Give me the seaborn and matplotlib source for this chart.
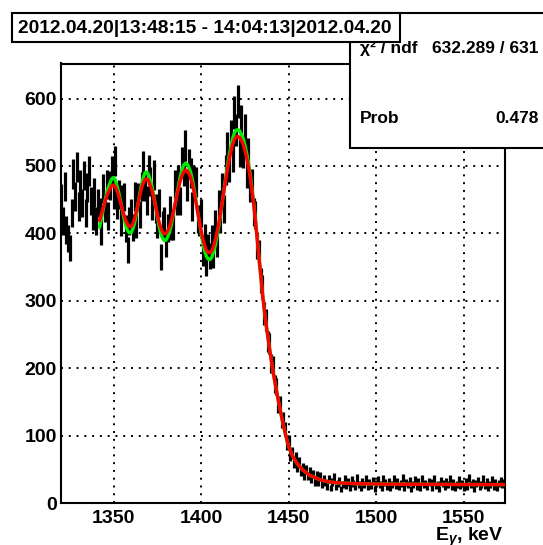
import numpy as np
import matplotlib
matplotlib.use("Agg")
import matplotlib.pyplot as plt
import seaborn as sns
from matplotlib.patches import Rectangle
from matplotlib.ticker import MultipleLocator

# Spectrum: counts in 1 keV bins, first bin centred on 1320 keV
bin_start = 1320
counts = [
    452, 418, 470, 405, 392, 378, 430, 488, 455, 499,
    440, 472, 445, 486, 430, 468, 492, 448, 425, 460,
    418, 445, 431, 403, 467, 438, 472, 426, 471, 493,
    457, 507, 443, 458, 416, 451, 454, 407, 375, 418,
    430, 409, 455, 414, 454, 428, 469, 500, 470, 449,
    494, 477, 441, 487, 437, 413, 445, 365, 413, 418,
    385, 408, 434, 410, 411, 473, 448, 479, 448, 506,
    492, 530, 469, 503, 490, 440, 478, 476, 421, 416,
    430, 371, 394, 355, 380, 366, 392, 368, 414, 385,
    444, 421, 468, 436, 494, 527, 499, 545, 514, 579,
    553, 596, 522, 566, 520, 553, 490, 519, 468, 474,
    431, 427, 382, 371, 330, 321, 281, 272, 239, 237,
    207, 204, 176, 173, 145, 147, 123, 124, 110, 88,
    92, 71, 75, 59, 67, 54, 61, 47, 52, 41,
    50, 40, 47, 35, 43, 31, 41, 31, 40, 28,
    36,
    30, 25, 35, 22, 31, 38, 24, 29, 33, 21,
    28, 36, 26, 31, 23, 34, 29, 25, 37, 27,
    22, 32, 28, 35, 24, 30, 26, 33, 21, 29,
    34, 27, 23, 36, 30, 25, 31, 22, 28, 35,
    26, 32, 24, 29, 37, 23, 30, 27, 33, 21,
    28, 34, 25, 31, 22, 36, 27, 29, 24, 32,
    30, 23, 35, 26, 28, 21, 33, 29, 25, 31,
    27, 36, 24, 30, 22, 28, 34, 26, 29, 23,
    32, 25, 37, 27, 30, 21, 29, 33, 24, 28,
    35, 26, 31, 23, 28, 34, 25, 30, 22, 29,
    33, 27, 30,
]

# Fit curves: 1 keV steps over the peak region, coarser along the flat tail
fit_energy = list(range(1342, 1471)) + [1472, 1474, 1477, 1480, 1485, 1490,
                                        1500, 1520, 1540, 1560, 1573]
fit_red = [
    419, 428, 437, 446, 454, 461, 466, 471, 472, 469,
    463, 455, 446, 436, 427, 419, 413, 410, 410, 414,
    422, 432, 444, 456, 467, 475, 480, 481, 478, 471,
    463, 452, 440, 428, 417, 408, 402, 399, 400, 404,
    410, 419, 430, 442, 454, 466, 477, 485, 491, 494,
    493, 489, 483, 473, 461, 447, 432, 418, 404, 392,
    382, 375, 372, 371, 374, 380, 389, 401, 414, 429,
    446, 463, 479, 495, 509, 521, 532, 539, 543, 544,
    542, 538, 532, 523, 512, 499, 483, 464, 443, 419,
    392, 365, 338, 312, 288, 267, 248, 230, 213, 196,
    181, 167, 153, 140, 127, 115, 104, 93, 84, 77,
    71, 66, 62, 58, 55, 52, 49, 47, 45, 43,
    41, 40, 39, 37.5, 36.5, 35.5, 34.5, 33.5, 33,
    32, 31, 30.2, 29.6, 29, 28.6, 28.1, 27.7, 27.5, 27.4, 27.3,
]
fit_green = [
    409, 421, 434, 447, 459, 468, 475, 481, 483, 479,
    470, 460, 448, 435, 422, 411, 404, 401, 401, 406,
    415, 428, 444, 459, 473, 483, 490, 491, 487, 479,
    469, 455, 440, 425, 411, 399, 393, 389, 390, 395,
    402, 413, 427, 441, 456, 470, 483, 494, 501, 504,
    503, 498, 491, 480, 466, 450, 432, 416, 399, 385,
    374, 366, 362, 361, 364, 371, 381, 394, 409, 426,
    445, 464, 482, 500, 515, 529, 541, 549, 553, 554,
    552, 547, 541, 531, 519, 505, 488, 467, 446, 421,
    393, 366, 338, 312, 288, 267, 248, 230, 213, 196,
    181, 167, 153, 140, 127, 115, 104, 93, 84, 77,
    71, 66, 62, 58, 55, 52, 49, 47, 45, 43,
    41, 40, 39, 37.5, 36.5, 35.5, 34.5, 33.5, 33,
    32, 31, 30.2, 29.6, 29, 28.6, 28.1, 27.7, 27.5, 27.4, 27.3,
]

title_text = "2012.04.20|13:48:15 - 14:04:13|2012.04.20"
stat_names = ["\u03c7\u00b2 / ndf", "Prob"]
stat_values = ["632.289 / 631", "0.478"]
x_ticks = [1350, 1400, 1450, 1500, 1550]
y_ticks = [0, 100, 200, 300, 400, 500, 600]
x_label = r"E$_{\gamma}$, keV"

sns.set_theme(style="white")
plt.rcParams["font.family"] = ["Liberation Sans", "DejaVu Sans"]
plt.rcParams["font.weight"] = "bold"
plt.rcParams["mathtext.fontset"] = "custom"
plt.rcParams["mathtext.rm"] = "Liberation Sans:bold"
plt.rcParams["mathtext.it"] = "Liberation Sans:bold:italic"
plt.rcParams["mathtext.bf"] = "Liberation Sans:bold"

W, H = 543, 545
fig = plt.figure(figsize=(W / 100, H / 100), dpi=100)
fig.patch.set_facecolor("white")


def fx(px):
    return px / W


def fy(py):
    return 1 - py / H


ax = fig.add_axes([fx(61), fy(503), fx(505) - fx(61), fy(63.5) - fy(503)])
ax.set_facecolor("white")

energy = np.arange(bin_start, bin_start + len(counts))
cnt = np.array(counts, dtype=float)

ax.errorbar(energy, cnt, xerr=0.5, yerr=np.sqrt(cnt), fmt="none",
            ecolor="black", elinewidth=2.3, capsize=0, zorder=3)

sns.lineplot(x=fit_energy, y=fit_green, ax=ax, color="#00ee00", lw=2.4,
             sort=False, estimator=None, zorder=4)
sns.lineplot(x=fit_energy, y=fit_red, ax=ax, color="#ff0000", lw=2.4,
             sort=False, estimator=None, zorder=5)

ax.set_xlim(1320, 1573.5)
ax.set_ylim(0, 652)
ax.set_xticks(x_ticks)
ax.set_yticks(y_ticks)
ax.xaxis.set_minor_locator(MultipleLocator(10))
ax.yaxis.set_minor_locator(MultipleLocator(20))
ax.tick_params(axis="both", which="major", direction="in", length=8,
               width=1.3, labelsize=14, color="black", labelcolor="black")
ax.tick_params(axis="both", which="minor", direction="in", length=4.3,
               width=1.3, color="black")
ax.tick_params(axis="y", which="major", pad=3)
ax.tick_params(axis="x", which="major", pad=5)
ax.tick_params(top=False, right=False, which="both")
for lab in ax.get_xticklabels() + ax.get_yticklabels():
    lab.set_fontweight("bold")

ax.grid(True, which="major", color="black", linestyle=(0, (1, 3)),
        linewidth=1.4, zorder=1)
ax.set_axisbelow(True)
for sp in ax.spines.values():
    sp.set_visible(True)
    sp.set_color("black")
    sp.set_linewidth(1.5)

ax.set_xlabel("")
ax.set_ylabel("")
fig.text(fx(504), fy(541), x_label, ha="right", va="baseline",
         fontsize=14, fontweight="bold", color="black")

# Statistics box
fig.add_artist(Rectangle((fx(350), fy(148)), fx(560) - fx(350),
                         fy(13) - fy(148), transform=fig.transFigure,
                         facecolor="white", edgecolor="black", lw=1.5,
                         zorder=10))
rows_y = [53, 123]
for name, val, yy in zip(stat_names, stat_values, rows_y):
    fig.text(fx(360), fy(yy), name, ha="left", va="baseline", fontsize=12.5,
             fontweight="bold", color="black", zorder=11)
    fig.text(fx(539), fy(yy), val, ha="right", va="baseline", fontsize=12.5,
             fontweight="bold", color="black", zorder=11)

# Title box
fig.add_artist(Rectangle((fx(12), fy(42)), fx(400) - fx(12), fy(13) - fy(42),
                         transform=fig.transFigure, facecolor="white",
                         edgecolor="black", lw=1.5, zorder=20))
fig.text(fx(205), fy(33.3), title_text, ha="center", va="baseline",
         fontsize=13.8, fontweight="bold", color="black", zorder=21)

fig.savefig("out.png", dpi=100)
